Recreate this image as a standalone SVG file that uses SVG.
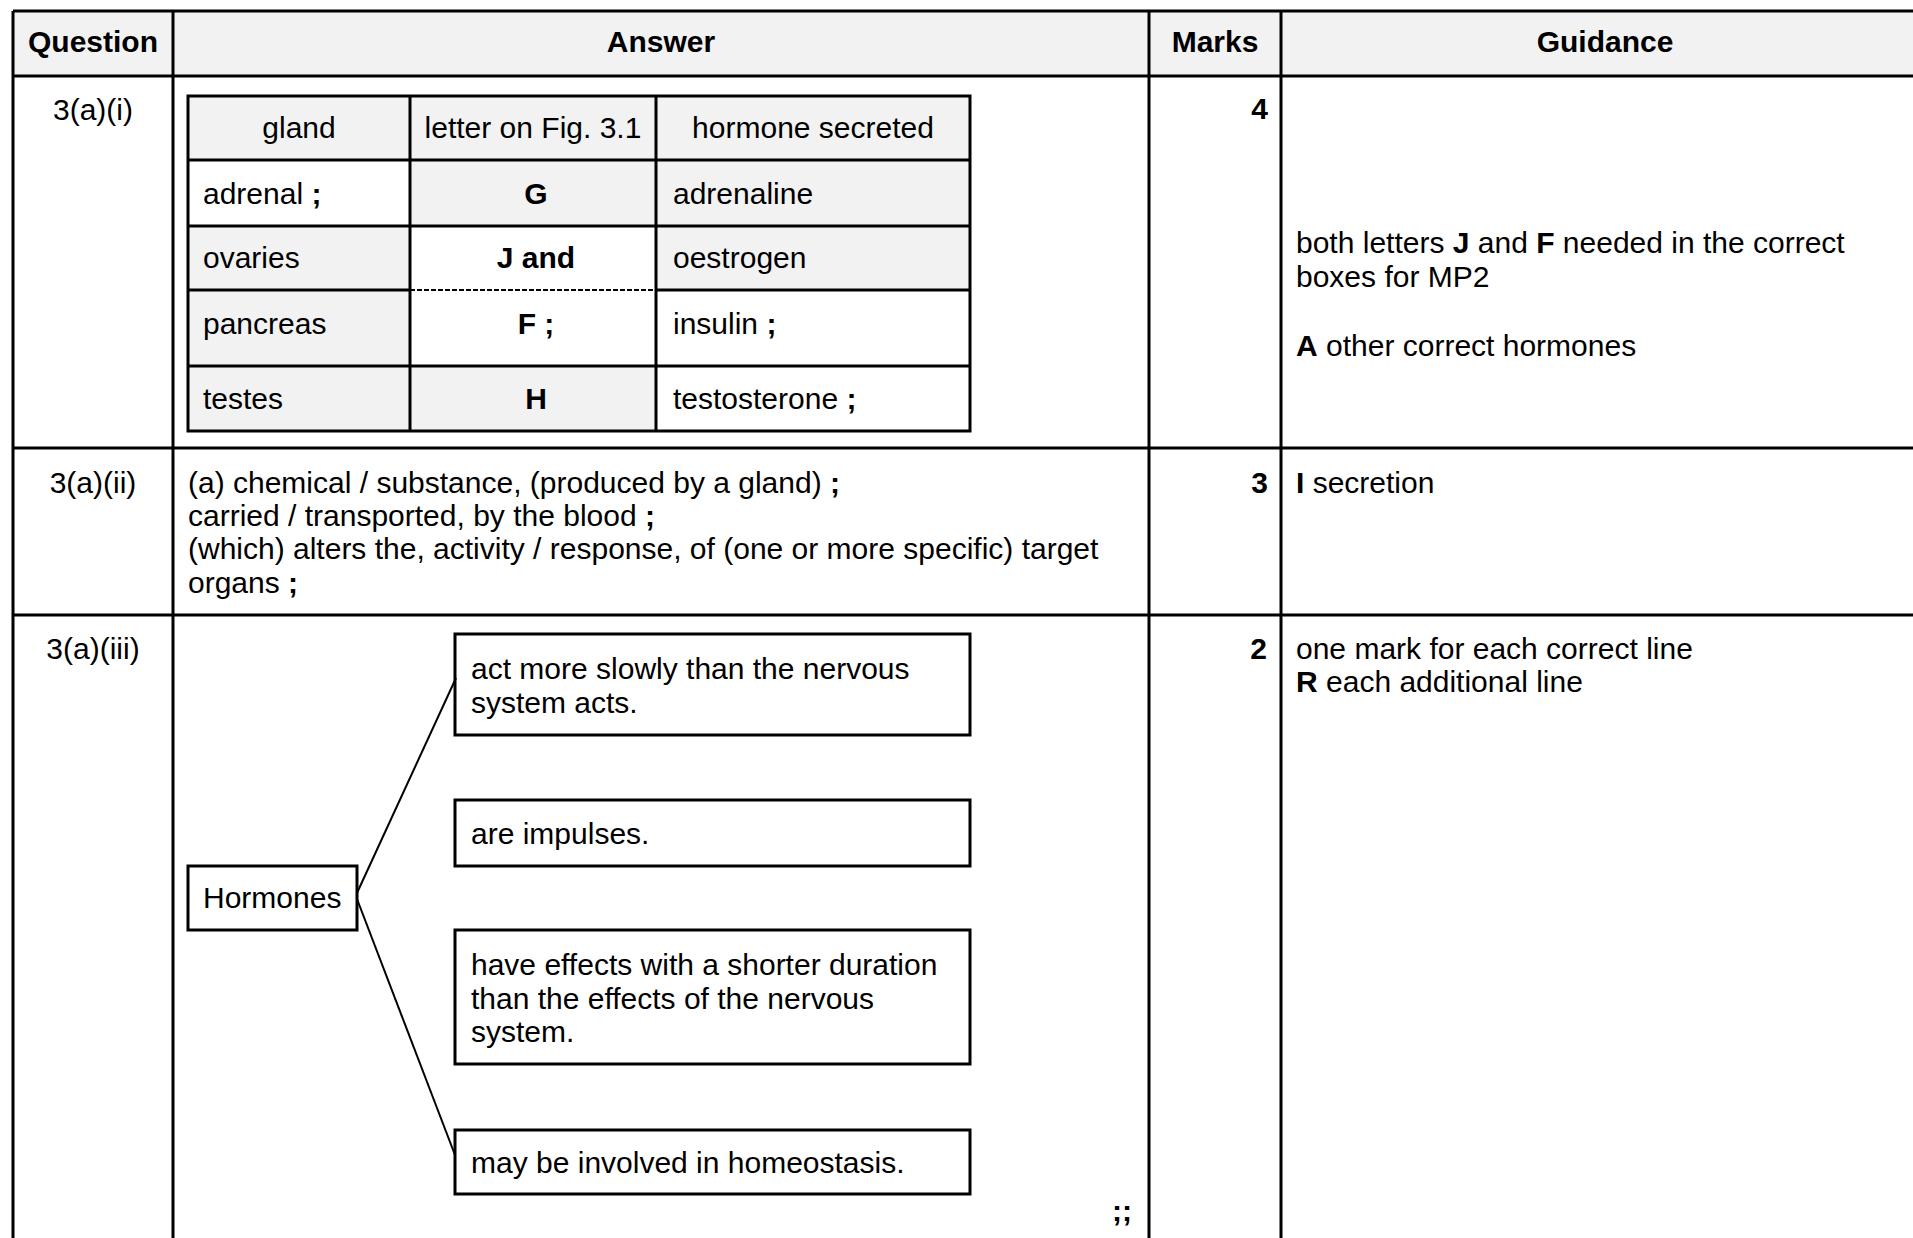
<svg xmlns="http://www.w3.org/2000/svg" width="1913" height="1238" viewBox="0 0 1913 1238">
<style>
text { font-family: "Liberation Sans", Arial, Helvetica, sans-serif; font-size: 30px; fill: #000; }
.b { font-weight: bold; }
.c { text-anchor: middle; }
.r { text-anchor: end; }
.ln { stroke: #000; stroke-width: 3; fill: none; }
.g { fill: #f2f2f2; }
.w { fill: #fff; }
.box { fill: #fff; stroke: #000; stroke-width: 3; }
.conn { stroke: #000; stroke-width: 2; fill: none; }
</style>
<rect width="1913" height="1238" fill="#fff"/>
<g id="grid">
  <rect x="13" y="11" width="1900" height="65" class="g"/>
  <path class="ln" d="M13 11H1913M13 76H1913M13 448H1913M13 615H1913M13 11V1238M173 11V1238M1149 11V1238M1281 11V1238"/>
</g>
<g id="header">
  <text class="b c" x="93" y="52">Question</text>
  <text class="b c" x="661" y="52">Answer</text>
  <text class="b c" x="1215" y="52">Marks</text>
  <text class="b c" x="1605" y="52">Guidance</text>
</g>
<g id="row1">
  <text class="c" x="93" y="120">3(a)(i)</text>
  <text class="b r" x="1268" y="119">4</text>
  <g id="gland-table">
    <rect x="188" y="96" width="222" height="64" class="g"/>
    <rect x="410" y="96" width="246" height="64" class="g"/>
    <rect x="656" y="96" width="314" height="64" class="g"/>
    <rect x="188" y="160" width="222" height="66" class="w"/>
    <rect x="410" y="160" width="246" height="66" class="g"/>
    <rect x="656" y="160" width="314" height="66" class="g"/>
    <rect x="188" y="226" width="222" height="64" class="g"/>
    <rect x="410" y="226" width="246" height="64" class="w"/>
    <rect x="656" y="226" width="314" height="64" class="g"/>
    <rect x="188" y="290" width="222" height="76" class="g"/>
    <rect x="410" y="290" width="246" height="76" class="w"/>
    <rect x="656" y="290" width="314" height="76" class="w"/>
    <rect x="188" y="366" width="222" height="65" class="g"/>
    <rect x="410" y="366" width="246" height="65" class="g"/>
    <rect x="656" y="366" width="314" height="65" class="w"/>
    <path class="ln" d="M188 96H970V431H188ZM410 96V431M656 96V431M188 160H970M188 226H970M188 366H970M188 290H410M656 290H970"/>
    <path d="M410 290H656" stroke="#000" stroke-width="2" stroke-dasharray="5 2"/>
    <text class="c" x="299" y="138">gland</text>
    <text class="c" x="533" y="138">letter on Fig. 3.1</text>
    <text class="c" x="813" y="138">hormone secreted</text>
    <text x="203" y="204">adrenal <tspan class="b">;</tspan></text>
    <text class="b c" x="536" y="204">G</text>
    <text x="673" y="204">adrenaline</text>
    <text x="203" y="268">ovaries</text>
    <text class="b c" x="536" y="268">J and</text>
    <text x="673" y="268">oestrogen</text>
    <text x="203" y="334">pancreas</text>
    <text class="b c" x="536" y="334">F ;</text>
    <text x="673" y="334">insulin <tspan class="b">;</tspan></text>
    <text x="203" y="409">testes</text>
    <text class="b c" x="536" y="409">H</text>
    <text x="673" y="409">testosterone <tspan class="b">;</tspan></text>
  </g>
  <text x="1296" y="253">both letters <tspan class="b">J</tspan> and <tspan class="b">F</tspan> needed in the correct</text>
  <text x="1296" y="287">boxes for MP2</text>
  <text x="1296" y="356"><tspan class="b">A</tspan> other correct hormones</text>
</g>
<g id="row2">
  <text class="c" x="93" y="493">3(a)(ii)</text>
  <text x="188" y="493">(a) chemical / substance, (produced by a gland) <tspan class="b">;</tspan></text>
  <text x="188" y="526">carried / transported, by the blood <tspan class="b">;</tspan></text>
  <text x="188" y="559">(which) alters the, activity / response, of (one or more specific) target</text>
  <text x="188" y="593">organs <tspan class="b">;</tspan></text>
  <text class="b r" x="1268" y="493">3</text>
  <text x="1296" y="493"><tspan class="b">I</tspan> secretion</text>
</g>
<g id="row3">
  <text class="c" x="93" y="659">3(a)(iii)</text>
  <text class="b r" x="1267" y="659">2</text>
  <text x="1296" y="659">one mark for each correct line</text>
  <text x="1296" y="692"><tspan class="b">R</tspan> each additional line</text>
  <text class="b" x="1112" y="1221">;;</text>
</g>
<g id="node-hormones">
  <rect class="box" x="188" y="866" width="169" height="64"/>
  <text x="203" y="908">Hormones</text>
</g>
<g id="node-slowly">
  <rect class="box" x="455" y="634" width="515" height="101"/>
  <text x="471" y="679">act more slowly than the nervous</text>
  <text x="471" y="713">system acts.</text>
</g>
<g id="node-impulses">
  <rect class="box" x="455" y="800" width="515" height="66"/>
  <text x="471" y="844">are impulses.</text>
</g>
<g id="node-shorter">
  <rect class="box" x="455" y="930" width="515" height="134"/>
  <text x="471" y="975">have effects with a shorter duration</text>
  <text x="471" y="1009">than the effects of the nervous</text>
  <text x="471" y="1042">system.</text>
</g>
<g id="node-homeostasis">
  <rect class="box" x="455" y="1130" width="515" height="64"/>
  <text x="471" y="1173">may be involved in homeostasis.</text>
</g>
<g id="connectors">
  <line class="conn" x1="357" y1="893" x2="456" y2="678"/>
  <line class="conn" x1="357" y1="899" x2="455" y2="1155"/>
</g>
</svg>
